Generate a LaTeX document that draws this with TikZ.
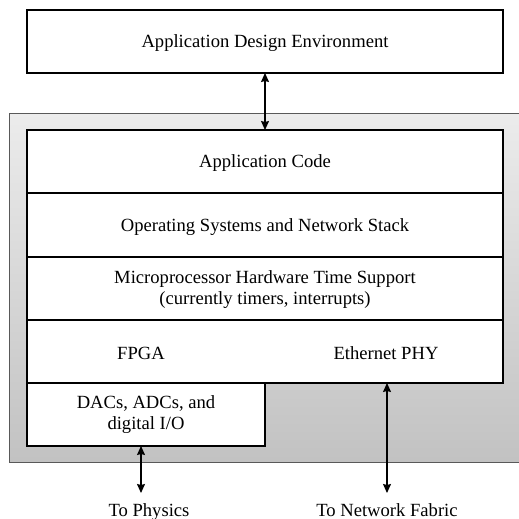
\documentclass[tikz,border=0pt]{standalone}
\usepackage{fontspec}
\setmainfont{Liberation Serif}
\usetikzlibrary{arrows.meta}
\begin{document}
\begin{tikzpicture}[x=1pt,y=-1pt,
  layer/.style={draw=black,line width=1.6pt,fill=white},
  lbl/.style={font=\fontsize{18.6}{21}\selectfont,align=center,inner sep=0pt},
  conn/.style={line width=1.1pt,{Stealth[length=9pt,width=8pt,inset=1pt]}-{Stealth[length=9pt,width=8pt,inset=1pt]}}]
\useasboundingbox (0,0) rectangle (519,519);
% gray background
\shade[top color=gray!15,bottom color=gray!48,draw=black!65,line width=1pt] (9,113) rectangle (522,462);
% top box
\draw[layer] (27,10) rectangle (503,73);
\node[lbl] (ade) at (265,43) {Application Design Environment};
\coordinate (adeb) at (265,73);
% stack
\draw[layer] (27,130) rectangle (503,193);
\draw[layer] (27,193) rectangle (503,257);
\draw[layer] (27,257) rectangle (503,320);
\draw[layer] (27,320) rectangle (503,383);
\draw[layer] (27,383) rectangle (265,446);
\coordinate (appt) at (265,130);
\node[lbl] (app) at (265,163) {Application Code};
\node[lbl] (os) at (265,227) {Operating Systems and Network Stack};
\node[lbl] (mp) at (265,290) {Microprocessor Hardware Time Support\\(currently timers, interrupts)};
\node[lbl] (fpga) at (141,353) {FPGA};
\node[lbl] (eth) at (386,353) {Ethernet PHY};
\node[lbl] (dac) at (146,415) {DACs, ADCs, and\\digital I/O};
\coordinate (dacb) at (141,446);
\coordinate (ethb) at (387,383);
\node[lbl,anchor=base] (phys) at (149,516) {To Physics};
\node[lbl,anchor=base] (net) at (387,516) {To Network Fabric};
\coordinate (physt) at (141,493);
\coordinate (nett) at (387,493);
\draw[conn] (adeb) -- (appt);
\draw[conn] (dacb) -- (physt);
\draw[conn] (ethb) -- (nett);
\end{tikzpicture}
\end{document}
